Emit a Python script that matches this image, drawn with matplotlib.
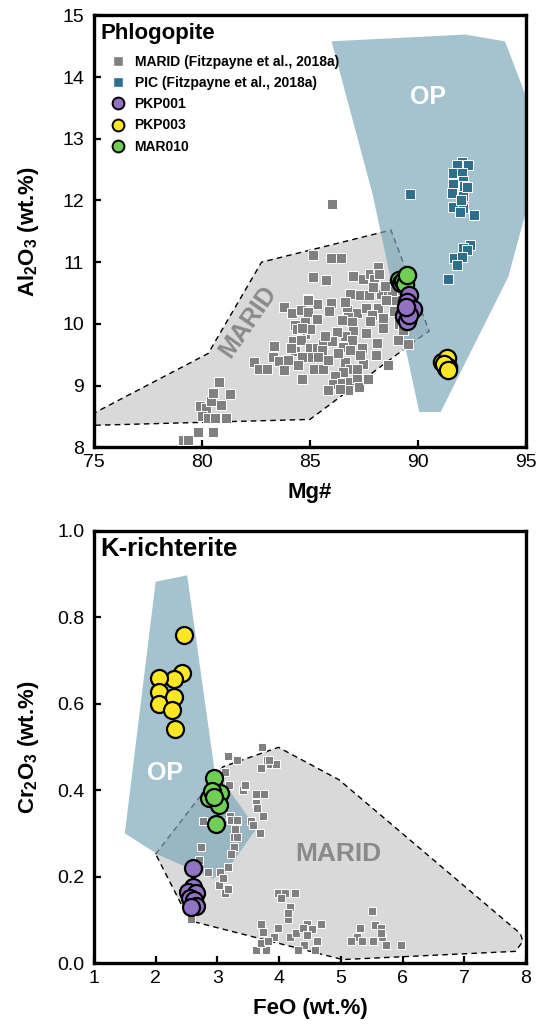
import numpy as np
import matplotlib
matplotlib.use('Agg')
import matplotlib.pyplot as plt
from matplotlib.patches import Polygon
from matplotlib.lines import Line2D

plt.rcParams['font.family'] = ['Liberation Sans', 'DejaVu Sans']
plt.rcParams['mathtext.fontset'] = 'custom'
plt.rcParams['mathtext.bf'] = 'Liberation Sans:bold'
plt.rcParams['mathtext.rm'] = 'Liberation Sans:bold'
plt.rcParams['mathtext.default'] = 'bf'

# colours
GREY = '#808080'
PIC_BLUE = '#2e6f8e'
OP_FILL = '#79a7b8'
MARID_FILL = '#d9d9d9'
PURPLE = '#9272c2'
YELLOW = '#fde725'
GREEN = '#6fcf55'

# ---- phlogopite: Mg# vs Al2O3 ----
phl_marid_mg = [79.1, 79.37, 79.8, 80.49, 79.91, 80.2, 80.4, 80.86, 80.53, 81.3, 80.77, 80.0, 80.27, 80.6, 81.1,
                82.42, 82.65, 83.02, 83.35, 83.27, 83.58, 83.81, 83.8, 84.15, 84.31, 84.62, 84.92, 85.31, 84.77,
                85.12, 85.97, 86.44, 85.12, 85.74, 87.0, 87.47, 87.78, 87.98, 88.16, 88.21,
                86.85, 87.31, 87.75, 88.29, 88.63, 84.57, 84.92, 84.92, 85.96,
                84.77, 85.31, 84.38, 85.0, 84.62,
                86.7, 87.19, 86.77, 87.59, 88.16, 87.86, 87.78, 86.47,
                86.93, 86.98, 86.62, 86.24, 88.37,
                84.23, 84.57, 85.0, 85.31, 85.62, 86.0, 85.54, 84.31, 84.0, 85.2, 85.59, 85.85, 85.38, 84.92, 84.62,
                86.93, 86.54, 86.85, 86.62, 86.85, 86.54, 86.16, 86.08, 86.47, 86.85, 87.16, 86.77, 87.27, 87.7,
                87.47, 87.39, 88.09, 88.06, 87.16, 87.31,
                88.63, 89.09, 89.55, 89.0, 88.78, 88.47, 88.52, 85.85, 86.4, 89.1, 89.3, 86.0,
                84.45, 85.7, 86.3, 87.6, 88.4, 88.9, 85.9, 86.6, 87.9, 84.1]
phl_marid_al = [8.12, 8.11, 8.25, 8.25, 8.66, 8.64, 8.75, 8.69, 8.88, 8.86, 9.06, 8.5, 8.48, 8.48, 8.48,
                9.38, 9.27, 9.27, 9.64, 9.47, 9.4, 9.25, 10.27, 10.18, 9.98, 9.1, 10.41, 10.32, 9.84,
                11.11, 11.07, 11.07, 10.76, 10.71, 10.77, 10.73, 10.8, 10.72, 10.92, 10.81,
                10.49, 10.47, 10.46, 10.49, 10.5, 10.23, 10.39, 10.19, 10.33,
                10.03, 10.08, 9.92, 9.91, 9.93,
                10.22, 10.17, 10.11, 10.25, 10.25, 10.14, 10.05, 10.06,
                10.03, 9.88, 9.81, 9.87, 9.94,
                9.72, 9.73, 9.61, 9.61, 9.68, 9.72, 9.57, 9.56, 9.41, 9.27, 9.27, 9.41, 9.47, 9.47, 9.46,
                9.73, 9.62, 9.57, 9.38, 9.27, 9.22, 9.15, 9.03, 9.04, 9.06, 9.12, 8.92, 8.98, 9.11,
                9.35, 9.6, 9.69, 9.49, 9.27, 9.49,
                9.33, 9.74, 9.68, 10.38, 10.54, 10.62, 10.38, 8.92, 8.95, 10.0, 9.9, 11.95,
                9.33, 9.8, 9.52, 9.85, 10.1, 10.2, 10.2, 10.35, 10.6, 9.6]

phl_pic_mg = [92.02, 92.3, 91.79, 91.64, 92.02, 92.07, 91.6, 92.15, 91.56, 92.07, 91.64, 92.07, 92.61, 91.94,
              92.25, 92.0, 92.41, 92.07, 92.25, 91.67, 92.02, 91.79, 91.4, 89.63]
phl_pic_al = [12.62, 12.57, 12.57, 12.44, 12.44, 12.31, 12.27, 12.24, 12.12, 12.08, 11.9, 11.88, 11.77, 11.81,
              12.22, 12.0, 11.28, 11.23, 11.2, 11.07, 11.08, 10.95, 10.72, 12.11]

phl_pkp001_mg = [89.6, 89.5, 89.75, 89.35, 89.5, 89.6, 89.45]
phl_pkp001_al = [10.46, 10.35, 10.24, 10.12, 10.05, 10.15, 10.28]
phl_pkp003_mg = [91.1, 91.35, 91.4, 91.3, 91.2, 91.4]
phl_pkp003_al = [9.38, 9.45, 9.3, 9.28, 9.35, 9.25]
phl_mar010_mg = [89.1, 89.2, 89.3, 89.4, 89.5]
phl_mar010_al = [10.71, 10.66, 10.69, 10.65, 10.79]

phl_op_field = [(86.0, 14.58), (92.18, 14.69), (94.03, 14.58), (95.1, 13.6), (95.1, 11.95),
                (94.18, 10.76), (91.05, 8.57), (90.06, 8.57), (87.9, 12.1)]
phl_marid_field = [(74.5, 8.46), (80.29, 9.52), (82.76, 11.0), (88.75, 11.52), (90.52, 9.88),
                   (90.01, 9.76), (85.0, 8.45), (74.5, 8.35)]

# ---- K-richterite: FeO vs Cr2O3 ----
kr_marid_feo = [3.72, 3.17, 3.32, 3.81, 3.86, 3.95, 3.71, 3.13, 3.19, 3.41, 3.45, 3.63, 3.76, 3.63, 3.64, 3.74,
                3.2, 3.22, 2.77, 3.32, 3.55, 3.28, 3.27, 3.69, 2.74, 3.27, 3.22, 2.7, 2.84, 3.05, 3.18, 3.02,
                3.16, 3.13, 2.57,
                3.98, 4.1, 4.25, 4.03, 4.17, 4.14, 3.7, 3.74, 3.98, 3.92, 3.63, 3.79, 3.71, 3.82, 4.17, 4.27,
                4.46, 4.68, 4.38, 4.54, 4.4, 4.61, 4.31, 4.58, 4.46,
                5.51, 5.31, 5.55, 5.65, 5.27, 5.16, 5.35, 5.52, 5.67, 5.73, 5.97, 5.65,
                3.84, 3.44, 3.31, 3.57, 3.31, 3.09, 3.17, 4.14]
kr_marid_cr = [0.499, 0.48, 0.47, 0.47, 0.46, 0.46, 0.451, 0.441, 0.412, 0.4, 0.41, 0.39, 0.39, 0.371, 0.358, 0.34,
               0.341, 0.33, 0.329, 0.329, 0.329, 0.309, 0.292, 0.3, 0.269, 0.269, 0.253, 0.238, 0.211, 0.211, 0.221,
               0.181, 0.173, 0.161, 0.103,
               0.161, 0.161, 0.161, 0.15, 0.13, 0.103, 0.09, 0.071, 0.08, 0.061, 0.03, 0.03, 0.046, 0.05, 0.061,
               0.069, 0.09, 0.09, 0.08, 0.078, 0.042, 0.05, 0.03, 0.03, 0.065,
               0.12, 0.082, 0.089, 0.082, 0.061, 0.05, 0.05, 0.05, 0.061, 0.042, 0.042, 0.07,
               0.47, 0.412, 0.331, 0.319, 0.291, 0.196, 0.171, 0.116]

kr_pkp001_feo = [2.6, 2.6, 2.53, 2.65, 2.56, 2.62, 2.66, 2.58]
kr_pkp001_cr = [0.22, 0.177, 0.165, 0.163, 0.15, 0.145, 0.132, 0.13]
kr_pkp003_feo = [2.46, 2.43, 2.29, 2.055, 2.055, 2.05, 2.29, 2.27, 2.32]
kr_pkp003_cr = [0.76, 0.672, 0.657, 0.659, 0.628, 0.6, 0.615, 0.586, 0.541]
kr_mar010_feo = [2.94, 2.87, 3.05, 2.91, 3.02, 2.98, 2.94]
kr_mar010_cr = [0.427, 0.381, 0.394, 0.398, 0.366, 0.322, 0.384]

kr_op_field = [(2.0, 0.882), (2.51, 0.897), (2.95, 0.45), (3.63, 0.31), (3.22, 0.228),
               (2.93, 0.195), (2.05, 0.25), (1.5, 0.30)]
kr_marid_field = [(2.0, 0.252), (3.09, 0.454), (3.99, 0.499), (4.97, 0.424), (7.91, 0.068),
                  (7.95, 0.05), (7.83, 0.027), (5.03, 0.008), (2.55, 0.098)]

fig = plt.figure(figsize=(5.4, 10.28), dpi=100)
ax1 = fig.add_axes([0.174, 0.565, 0.800, 0.420])
ax2 = fig.add_axes([0.174, 0.0632, 0.800, 0.4205])

SQ = dict(marker='s', edgecolors='white', linewidths=0.7, zorder=3)
CIRC = dict(marker='o', edgecolors='black', linewidths=1.6, zorder=4)


def fields(ax, op, marid):
    ax.add_patch(Polygon(marid, closed=True, facecolor=MARID_FILL, edgecolor='black',
                         linestyle=(0, (4, 3)), linewidth=1.0, zorder=1))
    ax.add_patch(Polygon(op, closed=True, facecolor=OP_FILL, edgecolor='none', alpha=0.68, zorder=1.5))


def style(ax):
    for s in ax.spines.values():
        s.set_linewidth(2.4)
    ax.tick_params(direction='in', length=5, width=1.6, labelsize=14, top=False, right=False)
    ax.tick_params(axis='x', pad=5)
    ax.tick_params(axis='y', pad=7)
    ax.yaxis.set_label_coords(-0.122, 0.5)


# phlogopite panel
fields(ax1, phl_op_field, phl_marid_field)
ax1.scatter(phl_marid_mg, phl_marid_al, s=44, c=GREY, **SQ)
ax1.scatter(phl_pic_mg, phl_pic_al, s=44, c=PIC_BLUE, **SQ)
ax1.scatter(phl_mar010_mg, phl_mar010_al, s=155, c=GREEN, **CIRC)
ax1.scatter(phl_pkp001_mg, phl_pkp001_al, s=155, c=PURPLE, **CIRC)
ax1.scatter(phl_pkp003_mg, phl_pkp003_al, s=155, c=YELLOW, **CIRC)
ax1.set_xlim(75, 95)
ax1.set_ylim(8, 15)
ax1.set_xticks([75, 80, 85, 90, 95])
ax1.set_yticks(range(8, 16))
style(ax1)
ax1.set_xlabel('Mg#', fontsize=16, fontweight='bold', labelpad=8)
ax1.set_ylabel('Al$_2$O$_3$ (wt.%)', fontsize=16, fontweight='bold')
ax1.text(0.014, 0.958, 'Phlogopite', transform=ax1.transAxes, fontsize=16, fontweight='bold',
         va='center', ha='left')
ax1.text(90.48, 13.68, 'OP', fontsize=18, fontweight='bold', color='white', ha='center', va='center', zorder=2)
ax1.text(82.14, 10.03, 'MARID', fontsize=18, fontweight='bold', color='#8a8a8a', rotation=55,
         ha='center', va='center', zorder=2, rotation_mode='anchor')

handles = [
    Line2D([], [], marker='s', ls='none', color=GREY, markeredgecolor='white', markersize=7.5,
           label='MARID (Fitzpayne et al., 2018a)'),
    Line2D([], [], marker='s', ls='none', color=PIC_BLUE, markeredgecolor='white', markersize=7.5,
           label='PIC (Fitzpayne et al., 2018a)'),
    Line2D([], [], marker='o', ls='none', color=PURPLE, markeredgecolor='black', markeredgewidth=1.4,
           markersize=8.5, label='PKP001'),
    Line2D([], [], marker='o', ls='none', color=YELLOW, markeredgecolor='black', markeredgewidth=1.4,
           markersize=8.5, label='PKP003'),
    Line2D([], [], marker='o', ls='none', color=GREEN, markeredgecolor='black', markeredgewidth=1.4,
           markersize=8.5, label='MAR010'),
]
ax1.legend(handles=handles, loc='upper left', bbox_to_anchor=(0.02, 0.925), frameon=False,
           prop={'weight': 'bold', 'size': 10}, handletextpad=0.6, labelspacing=0.52,
           borderpad=0, handlelength=1.2)

# K-richterite panel
fields(ax2, kr_op_field, kr_marid_field)
ax2.scatter(kr_marid_feo, kr_marid_cr, s=36, c=GREY, **SQ)
ax2.scatter(kr_pkp003_feo, kr_pkp003_cr, s=150, c=YELLOW, **CIRC)
ax2.scatter(kr_mar010_feo, kr_mar010_cr, s=150, c=GREEN, **CIRC)
ax2.scatter(kr_pkp001_feo, kr_pkp001_cr, s=150, c=PURPLE, **CIRC)
ax2.set_xlim(1, 8)
ax2.set_ylim(0, 1)
ax2.set_xticks(range(1, 9))
ax2.set_yticks(np.arange(0, 1.01, 0.2))
ax2.yaxis.set_major_formatter(matplotlib.ticker.FormatStrFormatter('%.1f'))
style(ax2)
ax2.set_xlabel('FeO (wt.%)', fontsize=16, fontweight='bold', labelpad=8)
ax2.set_ylabel('Cr$_2$O$_3$ (wt.%)', fontsize=16, fontweight='bold')
ax2.text(0.014, 0.958, 'K-richterite', transform=ax2.transAxes, fontsize=18.5, fontweight='bold',
         va='center', ha='left')
ax2.text(2.147, 0.439, 'OP', fontsize=18, fontweight='bold', color='white', ha='center', va='center', zorder=2)
ax2.text(4.96, 0.252, 'MARID', fontsize=19, fontweight='bold', color='#8a8a8a', ha='center', va='center',
         zorder=2)

fig.savefig('out.png', dpi=100)
